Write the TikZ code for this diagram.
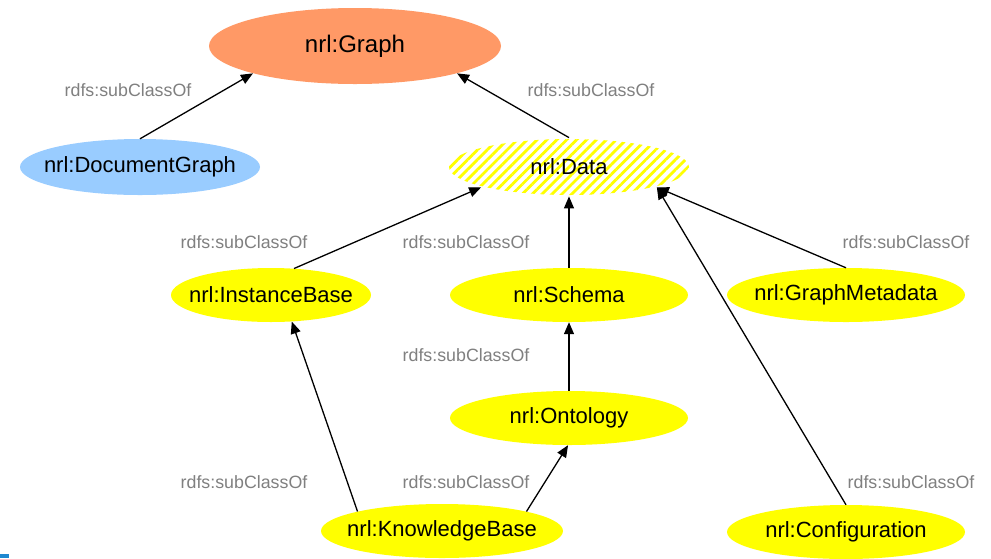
\documentclass[tikz,border=0pt]{standalone}
\usepackage{fontspec}
\setmainfont{Liberation Sans}
\usetikzlibrary{arrows.meta,patterns.meta,shapes.geometric}
\definecolor{graphorange}{RGB}{255,153,102}
\definecolor{docblue}{RGB}{153,204,255}
\definecolor{clsyellow}{RGB}{255,255,0}
\definecolor{labelgrey}{RGB}{128,128,128}
\definecolor{markblue}{RGB}{30,136,208}
\newcommand\zw[1]{\makebox[0pt]{#1}}
\begin{document}
\begin{tikzpicture}[x=1pt,y=-1pt,
  cls/.style={ellipse, inner sep=0pt, font=\fontsize{22}{24}\selectfont},
  yel/.style={cls, fill=clsyellow, minimum width=238pt, minimum height=54pt},
  lbl/.style={font=\fontsize{17.8}{20}\selectfont, text=labelgrey, inner sep=0pt},
  arr/.style={draw=black, line width=1.3pt, -{Triangle[length=12pt,width=10pt]}}
]
\path[use as bounding box, fill=white] (0,0) rectangle (991,558);
\fill[markblue] (0,554) rectangle (9,558);

\node[cls, fill=graphorange, minimum width=292pt, minimum height=76pt,
      font=\fontsize{24}{28}\selectfont] (g) at (355,46) {\zw{nrl:Graph}};
\node[cls, fill=docblue, minimum width=240pt, minimum height=56pt] (dg) at (140,167) {\zw{nrl:DocumentGraph}};
\node[cls, pattern={Lines[angle=45,distance=7pt,line width=2.8pt]}, pattern color=clsyellow,
      minimum width=240pt, minimum height=56pt] (d) at (569,167) {\zw{nrl:Data}};
\node[yel, minimum width=200pt] (ib) at (271,295) {\zw{nrl:InstanceBase}};
\node[yel] (sc) at (569,295) {\zw{nrl:Schema}};
\node[yel] (gm) at (846,295) {\zw{nrl:GraphMetadata}};
\node[yel] (on) at (569,418) {\zw{nrl:Ontology}};
\node[yel, minimum width=242pt] (kb) at (442,531) {\zw{nrl:KnowledgeBase}};
\node[yel] (cf) at (846,532) {\zw{nrl:Configuration}};

\draw[arr] (dg.north) -- (g.195);
\draw[arr] (d.north) -- (g.345);
\draw[arr] (ib.49) -- (d.193);
\draw[arr] (sc.north) -- (d.south);
\draw[arr] (gm.north) -- (d.347);
\draw[arr] (on.north) -- (sc.south);
\draw[arr] (kb.167) -- (ib.308);
\draw[arr] (kb.13) -- (on.268);
\draw[arr] (cf.north) -- (d.347);

\node[lbl] (l1) at (128,90) {rdfs:subClassOf};
\node[lbl] (l2) at (591,90) {rdfs:subClassOf};
\node[lbl] (l3) at (244,242) {rdfs:subClassOf};
\node[lbl] (l4) at (466,242) {rdfs:subClassOf};
\node[lbl] (l5) at (906,242) {rdfs:subClassOf};
\node[lbl] (l6) at (466,355) {rdfs:subClassOf};
\node[lbl] (l7) at (244,482) {rdfs:subClassOf};
\node[lbl] (l8) at (466,482) {rdfs:subClassOf};
\node[lbl] (l9) at (911,482) {rdfs:subClassOf};
\end{tikzpicture}
\end{document}
